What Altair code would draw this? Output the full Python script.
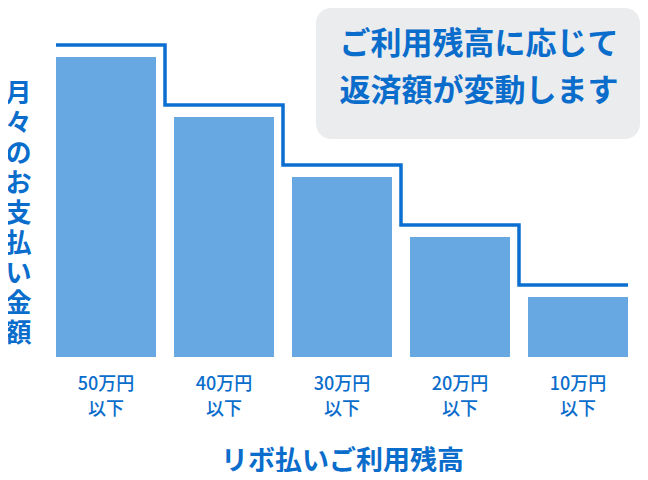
import altair as alt
import pandas as pd

# ---- data ----
categories = ["50万円\n以下", "40万円\n以下", "30万円\n以下", "20万円\n以下", "10万円\n以下"]
payments = [5, 4, 3, 2, 1]            # bar heights (relative units)
limit_line = [5.2, 4.2, 3.2, 2.2, 1.2]  # step line above the bars
y_title_chars = list("月々のお支払い金額")
x_title = "リボ払いご利用残高"
callout_lines = ["ご利用残高に応じて", "返済額が変動します"]

BLUE = "#0a6dcc"
LINE = "#0a6fd0"
BAR = "#67a8e3"
BOX = "#ebecee"
FONT = "Noto Sans CJK JP"

df = pd.DataFrame({"cat": categories, "pay": payments, "line": limit_line})

xscale = alt.Scale(paddingInner=0.1525, paddingOuter=0)
yscale = alt.Scale(domain=[0, 5.5], nice=False, zero=True)

x_axis = alt.Axis(
    title=x_title,
    labelExpr="split(datum.label, '\\n')",
    labelAngle=0,
    labelFont=FONT,
    labelFontSize=18,
    labelFontWeight=500,
    labelLineHeight=25,
    labelColor=BLUE,
    labelPadding=18,
    labelBaseline="top",
    ticks=False,
    domain=False,
    grid=False,
    titleFont=FONT,
    titleFontSize=27,
    titleFontWeight="bold",
    titleColor=BLUE,
    titleBaseline="middle",
    titleY=104,
)

y_axis = alt.Axis(
    title=y_title_chars,
    titleAngle=0,
    titleFont=FONT,
    titleFontSize=26,
    titleFontWeight="bold",
    titleColor=BLUE,
    titleLineHeight=30,
    titleAlign="center",
    titleBaseline="middle",
    titleX=-38,
    titleY=66,
    labels=False,
    ticks=False,
    domain=False,
    grid=False,
)

base = alt.Chart(df)

bars = base.mark_bar(color=BAR).encode(
    x=alt.X("cat:N", sort=categories, scale=xscale, axis=x_axis),
    y=alt.Y("pay:Q", scale=yscale, axis=y_axis),
)

step = base.mark_line(interpolate="step", color=LINE, strokeWidth=3.5).encode(
    x=alt.X("cat:N", sort=categories),
    y=alt.Y("line:Q"),
)

first_ext = alt.Chart(df.iloc[[0]]).mark_rule(color=LINE, strokeWidth=3.5).encode(
    x=alt.X("cat:N", sort=categories, bandPosition=0),
    x2=alt.X2("cat"),
    y=alt.Y("line:Q"),
)

last_ext = alt.Chart(df.iloc[[4]]).mark_rule(color=LINE, strokeWidth=3.5).encode(
    x=alt.X("cat:N", sort=categories, bandPosition=1),
    x2=alt.X2("cat"),
    y=alt.Y("line:Q"),
)

one = pd.DataFrame({"k": [0]})
box = alt.Chart(one).mark_rect(color=BOX, cornerRadius=15).encode(
    x=alt.value(260), x2=alt.value(584), y=alt.value(-19), y2=alt.value(112)
)
callout = alt.Chart(one).mark_text(
    font=FONT, fontSize=31, fontWeight="bold", color=BLUE,
    lineHeight=47, align="center", baseline="middle",
).encode(x=alt.value(423), y=alt.value(18), text=alt.value(callout_lines))

chart = (
    alt.layer(bars, step, first_ext, last_ext, box, callout)
    .properties(
        width=572,
        height=330,
        padding={"left": 48, "top": 19, "right": 12, "bottom": 115},
        autosize=alt.AutoSizeParams(type="none"),
        background="white",
    )
    .configure_view(stroke=None)
)

chart.save("out.html", embed_options={"renderer": "svg", "actions": False})
